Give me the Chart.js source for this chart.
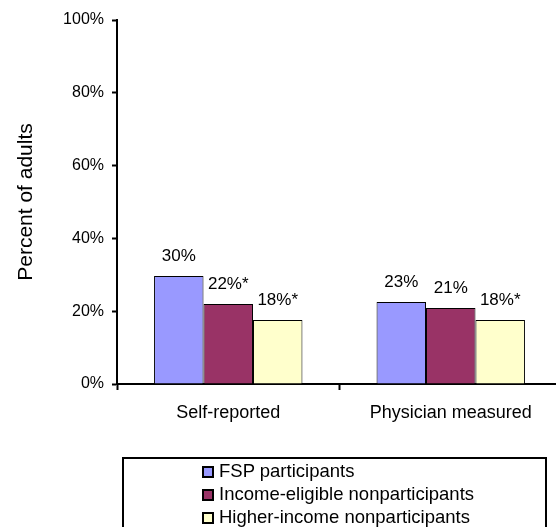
<!DOCTYPE html>
<html>
<head>
<meta charset="utf-8">
<script src="https://cdn.jsdelivr.net/npm/chart.js@4"></script>
<style>
  html, body { margin: 0; padding: 0; background: #fff; }
  #wrap { position: relative; width: 556px; height: 527px; overflow: hidden; }
  #chart { position: absolute; left: 0; top: 0; }
  .key {
    position: absolute; left: 122px; top: 457px; width: 425px; height: 90px;
    border: 2px solid #000; box-sizing: border-box;
    font-family: "Liberation Sans", Arial, sans-serif; font-size: 18.5px; color: #000;
  }
  .key div { position: absolute; left: 78px; height: 23px; line-height: 23px; white-space: nowrap; }
  .key span {
    display: inline-block; width: 12px; height: 12px; box-sizing: border-box;
    border: 2px solid #000; margin-right: 5px; vertical-align: -1px;
  }
</style>
</head>
<body>
<div id="wrap">
  <canvas id="chart" width="562" height="527"></canvas>
  <div class="key" id="key"></div>
</div>
<script>
const categories = ['Self-reported', 'Physician measured'];
const seriesNames = ['FSP participants', 'Income-eligible nonparticipants', 'Higher-income nonparticipants'];
const fspValues = [29.7, 22.5];
const eligibleValues = [22, 20.9];
const higherValues = [17.6, 17.6];
const fspLabels = ['30%', '23%'];
const eligibleLabels = ['22%*', '21%'];
const higherLabels = ['18%*', '18%*'];
const yTicks = [0, 20, 40, 60, 80, 100];

const colors = ['#9999FF', '#993366', '#FFFFCC'];
const valueLabels = [fspLabels, eligibleLabels, higherLabels];
const font = '"Liberation Sans", Arial, sans-serif';

Chart.defaults.color = '#000';
Chart.defaults.font.family = font;

const data = {
  labels: categories,
  datasets: [fspValues, eligibleValues, higherValues].map((vals, i) => ({
    label: seriesNames[i],
    data: vals,
    backgroundColor: colors[i],
    borderColor: '#000',
    borderWidth: 1,
    categoryPercentage: 0.667,
    barPercentage: 1
  }))
};

// labels above each bar
const barLabels = {
  id: 'barLabels',
  afterDatasetsDraw(chart) {
    const ctx = chart.ctx;
    ctx.save();
    ctx.font = '17px ' + font;
    ctx.fillStyle = '#000';
    ctx.textAlign = 'center';
    ctx.textBaseline = 'middle';
    chart.data.datasets.forEach((ds, di) => {
      chart.getDatasetMeta(di).data.forEach((bar, i) => {
        ctx.fillText(valueLabels[di][i], bar.x, bar.y - 20);
      });
    });
    ctx.restore();
  }
};

new Chart(document.getElementById('chart'), {
  type: 'bar',
  data: data,
  plugins: [barLabels],
  options: {
    responsive: false,
    animation: false,
    devicePixelRatio: 1,
    layout: { padding: { top: 20, right: 0, bottom: 0, left: 0 } },
    plugins: { legend: { display: false }, tooltip: { enabled: false } },
    scales: {
      x: {
        afterFit(scale) { scale.height = 143; },
        grid: { drawOnChartArea: false, drawTicks: true, tickLength: 6, tickColor: '#000', tickWidth: 2, offset: true },
        border: { color: '#000', width: 2 },
        ticks: { font: { size: 18 }, padding: 12 }
      },
      y: {
        min: 0, max: 100,
        afterFit(scale) { scale.width = 117; },
        afterBuildTicks(scale) { scale.ticks = yTicks.map(v => ({ value: v })); },
        grid: { drawOnChartArea: false, drawTicks: true, tickLength: 5, tickColor: '#000', tickWidth: 2 },
        border: { color: '#000', width: 2 },
        ticks: { font: { size: 16 }, padding: 8, callback: v => v + '%' },
        title: { display: true, text: 'Percent of adults', font: { size: 21 }, padding: { top: 14 } }
      }
    }
  }
});

const key = document.getElementById('key');
seriesNames.forEach((name, i) => {
  const row = document.createElement('div');
  row.style.top = (i * 23) + 'px';
  row.innerHTML = `<span style="background:${colors[i]}"></span>${name}`;
  key.append(row);
});
</script>
</body>
</html>
